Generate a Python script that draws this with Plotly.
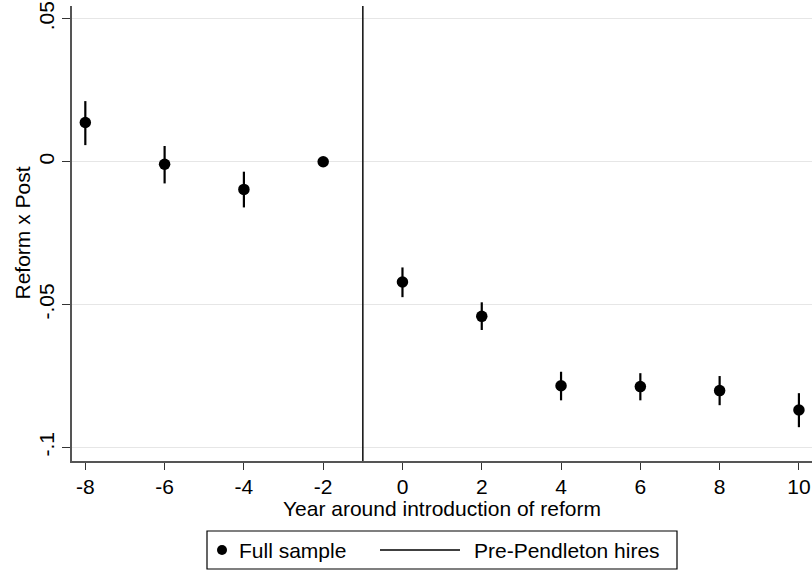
import plotly.graph_objects as go

# Event-study estimates: coefficient and 95% CI by year relative to the reform
years = [-8, -6, -4, -2, 0, 2, 4, 6, 8, 10]
coef = [0.0137, -0.0009, -0.0097, 0.0, -0.0421, -0.0541, -0.0784, -0.0787, -0.0801, -0.0869]
ci_low = [0.0058, -0.0076, -0.0160, 0.0, -0.0474, -0.0589, -0.0835, -0.0835, -0.0852, -0.0929]
ci_high = [0.0212, 0.0055, -0.0035, 0.0, -0.0370, -0.0492, -0.0735, -0.0740, -0.0750, -0.0810]

reform_line_x = -1

x_ticks = [-8, -6, -4, -2, 0, 2, 4, 6, 8, 10]
x_tick_text = ["-8", "-6", "-4", "-2", "0", "2", "4", "6", "8", "10"]
y_ticks = [-0.1, -0.05, 0, 0.05]
y_tick_text = ["-.1", "-.05", "0", ".05"]

legend_labels = ["Full sample", "Pre-Pendleton hires"]

FONT = "Liberation Sans, Arial, Helvetica, sans-serif"
FS = 21

err_plus = [h - c for h, c in zip(ci_high, coef)]
err_minus = [c - l for c, l in zip(coef, ci_low)]

fig = go.Figure()
fig.add_trace(go.Scatter(
    x=years, y=coef, mode="markers",
    marker=dict(color="black", size=11.5, symbol="circle"),
    error_y=dict(type="data", symmetric=False, array=err_plus, arrayminus=err_minus,
                 color="black", thickness=2.2, width=0),
    showlegend=False, name=legend_labels[0],
))

# vertical reference line at the year before the reform
fig.add_shape(type="line", xref="x", yref="paper", x0=reform_line_x, x1=reform_line_x,
              y0=0, y1=1, line=dict(color="#1a1a1a", width=1.6))

# legend box drawn in paper coordinates (plot area spans 740 x 455 px)
PW, PH = 740.0, 455.0
def px_x(p):
    return (p - 72) / PW
def px_y(p):
    return (461 - p) / PH

fig.add_shape(type="rect", xref="paper", yref="paper",
              x0=px_x(207), x1=px_x(677), y0=px_y(569), y1=px_y(531),
              line=dict(color="black", width=1.2), fillcolor="white")
fig.add_shape(type="circle", xref="paper", yref="paper", xsizemode="pixel", ysizemode="pixel",
              xanchor=px_x(222), yanchor=px_y(550), x0=-5, x1=5, y0=-5, y1=5,
              line=dict(color="black", width=0), fillcolor="black")
fig.add_shape(type="line", xref="paper", yref="paper",
              x0=px_x(380), x1=px_x(460), y0=px_y(550), y1=px_y(550),
              line=dict(color="black", width=1.6))
fig.add_annotation(xref="paper", yref="paper", x=px_x(237), y=px_y(550),
                   text=legend_labels[0], showarrow=False, xanchor="left", yanchor="middle",
                   font=dict(family=FONT, size=FS, color="black"))
fig.add_annotation(xref="paper", yref="paper", x=px_x(472), y=px_y(550),
                   text=legend_labels[1], showarrow=False, xanchor="left", yanchor="middle",
                   font=dict(family=FONT, size=FS, color="black"))

# axis titles
fig.add_annotation(xref="paper", yref="paper", x=0.5, y=px_y(508.5),
                   text="Year around introduction of reform", showarrow=False,
                   xanchor="center", yanchor="middle",
                   font=dict(family=FONT, size=FS, color="black"))
fig.add_annotation(xref="paper", yref="paper", x=px_x(22), y=0.5,
                   text="Reform x Post", showarrow=False, textangle=-90,
                   xanchor="center", yanchor="middle",
                   font=dict(family=FONT, size=FS, color="black"))

fig.update_layout(
    width=812, height=571,
    margin=dict(l=72, r=0, t=6, b=110),
    paper_bgcolor="white", plot_bgcolor="white",
    font=dict(family=FONT, size=FS, color="black"),
    showlegend=False,
)
fig.update_xaxes(
    range=[-8.336, 10.33], tickmode="array", tickvals=x_ticks, ticktext=x_tick_text,
    ticks="outside", ticklen=7, tickwidth=1.3, tickcolor="#333", ticklabelstandoff=-1,
    showline=True, linecolor="#555", linewidth=1.6, mirror=False,
    showgrid=False, zeroline=False,
    tickfont=dict(family=FONT, size=FS, color="black"),
)
fig.update_yaxes(
    range=[-0.10473, 0.05448], tickmode="array", tickvals=y_ticks, ticktext=y_tick_text,
    ticks="outside", ticklen=8, tickwidth=1.3, tickcolor="#333", tickangle=-90,
    showline=True, linecolor="#555", linewidth=1.6, mirror=False,
    showgrid=True, gridcolor="#e6e6e6", gridwidth=1.3, zeroline=False,
    tickfont=dict(family=FONT, size=FS, color="black"),
)

fig.write_html("out.html")
